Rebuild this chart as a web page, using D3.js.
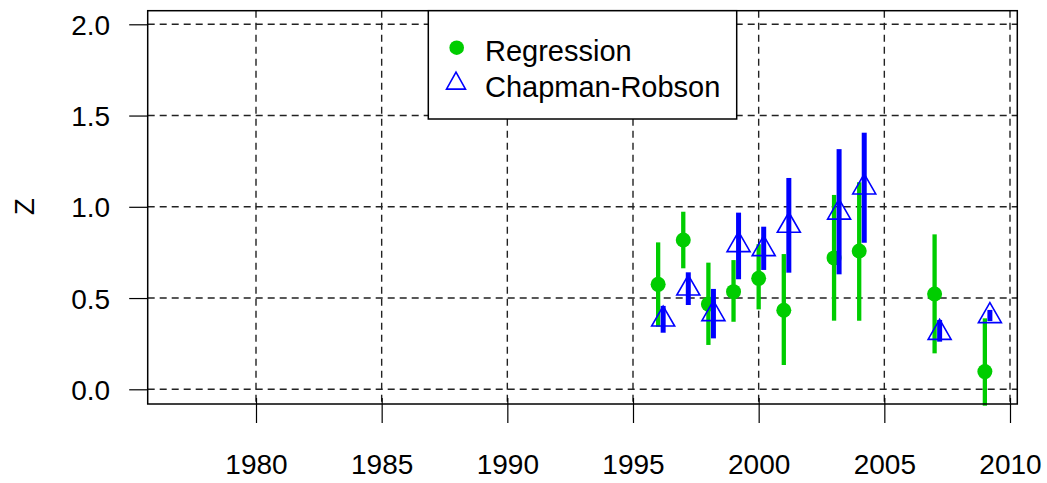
<!DOCTYPE html>
<html>
<head>
<meta charset="utf-8">
<script src="https://cdn.jsdelivr.net/npm/d3@7"></script>
<style>
  body { margin: 0; background: #fff; }
  svg text { font-family: "Liberation Sans", Arial, Helvetica, sans-serif; fill: #000; }
</style>
</head>
<body>
<svg id="chart" width="1047" height="483"></svg>
<script>
// Values
const years = [1996, 1997, 1998, 1999, 2000, 2001, 2003, 2004, 2007, 2009];

// Regression estimate with lower / upper bounds
const regZ     = [0.575, 0.818, 0.467, 0.535, 0.608, 0.433, 0.720, 0.758, 0.522, 0.097];
const regLower = [0.343, 0.663, 0.243, 0.370, 0.438, 0.133, 0.376, 0.376, 0.197, -0.09];
const regUpper = [0.805, 0.973, 0.694, 0.708, 0.795, 0.741, 1.065, 1.134, 0.849, 0.389];

// Chapman-Robson estimate with lower / upper bounds
const crZ     = [0.383, 0.553, 0.413, 0.791, 0.769, 0.897, 0.969, 1.107, 0.310, 0.402];
const crLower = [0.310, 0.462, 0.279, 0.603, 0.654, 0.639, 0.630, 0.803, 0.261, 0.374];
const crUpper = [0.457, 0.641, 0.550, 0.968, 0.891, 1.158, 1.316, 1.406, 0.380, 0.435];

const xTicks = [1980, 1985, 1990, 1995, 2000, 2005, 2010];
const yTicks = [0, 0.5, 1, 1.5, 2];
const crOffset = 0.2; // CR bars are nudged right of the year

const legendLabels = ["Regression", "Chapman-Robson"];

const GREEN = "#00CD00";
const BLUE = "#0000FF";

// Plot box in pixels
const box = { left: 147.7, right: 1017.3, top: 10.7, bottom: 404 };

const svg = d3.select("#chart");

const x = d3.scaleLinear()
  .domain([1980, 2010])
  .range([256, 1010]);
const y = d3.scaleLinear()
  .domain([0, 2])
  .range([389.3, 24.3]);

// Grid
const grid = svg.append("g").attr("class", "grid");
grid.selectAll(".hgrid")
  .data(yTicks)
  .join("line")
  .attr("x1", box.left).attr("x2", box.right)
  .attr("y1", d => y(d)).attr("y2", d => y(d))
  .attr("stroke", "#222").attr("stroke-width", 1.4)
  .attr("stroke-dasharray", "7,5");
grid.selectAll(".vgrid")
  .data(xTicks)
  .join("line")
  .attr("x1", d => x(d)).attr("x2", d => x(d))
  .attr("y1", box.top).attr("y2", box.bottom)
  .attr("stroke", "#222").attr("stroke-width", 1.4)
  .attr("stroke-dasharray", "7,5");

// Y axis
const yAxis = svg.append("g")
  .attr("transform", `translate(${box.left},0)`)
  .call(d3.axisLeft(y).tickValues(yTicks).tickFormat(d3.format(".1f")).tickSize(18.5).tickPadding(19));
yAxis.select(".domain").remove();
yAxis.selectAll("line").attr("stroke", "#000").attr("stroke-width", 1.2);
yAxis.selectAll("text").style("font-size", "28px").attr("dy", "0.36em");

// X axis (ticks poke slightly into the box, like the reference)
const xAxis = svg.append("g")
  .attr("transform", `translate(0,${398})`)
  .call(d3.axisBottom(x).tickValues(xTicks).tickFormat(d3.format("d")).tickSize(25).tickPadding(31));
xAxis.select(".domain").remove();
xAxis.selectAll("line").attr("stroke", "#000").attr("stroke-width", 1.2);
xAxis.selectAll("text").style("font-size", "28px");

// Axis title
svg.append("text")
  .attr("transform", `translate(34,206.7) rotate(-90)`)
  .attr("text-anchor", "middle")
  .style("font-size", "28px")
  .text("Z");

// Data
const regData = years.map((yr, i) => ({ yr, z: regZ[i], lo: regLower[i], hi: regUpper[i] }));
const crData = years.map((yr, i) => ({ yr: yr + crOffset, z: crZ[i], lo: crLower[i], hi: crUpper[i] }));

const marks = svg.append("g");

marks.selectAll(".reg-bar")
  .data(regData)
  .join("line")
  .attr("class", "reg-bar")
  .attr("x1", d => x(d.yr)).attr("x2", d => x(d.yr))
  .attr("y1", d => y(d.lo)).attr("y2", d => y(d.hi))
  .attr("stroke", GREEN).attr("stroke-width", 4.3);

marks.selectAll(".reg-dot")
  .data(regData)
  .join("circle")
  .attr("class", "reg-dot")
  .attr("cx", d => x(d.yr)).attr("cy", d => y(d.z))
  .attr("r", 7.5)
  .attr("fill", GREEN);

// R style pch=2 triangle, centred on its centroid
const triPath = (cx, cy, w, h) =>
  `M${cx},${cy - h * 2 / 3}L${cx + w / 2},${cy + h / 3}L${cx - w / 2},${cy + h / 3}Z`;

marks.selectAll(".cr-tri")
  .data(crData)
  .join("path")
  .attr("class", "cr-tri")
  .attr("d", d => triPath(x(d.yr), y(d.z), 23, 20))
  .attr("fill", "none")
  .attr("stroke", BLUE).attr("stroke-width", 1.6);

marks.selectAll(".cr-bar")
  .data(crData)
  .join("line")
  .attr("class", "cr-bar")
  .attr("x1", d => x(d.yr)).attr("x2", d => x(d.yr))
  .attr("y1", d => y(d.lo)).attr("y2", d => y(d.hi))
  .attr("stroke", BLUE).attr("stroke-width", 5);

// Plot box
svg.append("rect")
  .attr("x", box.left).attr("y", box.top)
  .attr("width", box.right - box.left).attr("height", box.bottom - box.top)
  .attr("fill", "none").attr("stroke", "#000").attr("stroke-width", 1.5);

// Legend
const legend = svg.append("g");
legend.append("rect")
  .attr("x", 428.3).attr("y", 10.7)
  .attr("width", 308.4).attr("height", 108.3)
  .attr("fill", "#fff").attr("stroke", "#000").attr("stroke-width", 1.5);
legend.append("circle")
  .attr("cx", 456.7).attr("cy", 47.7).attr("r", 7.3)
  .attr("fill", GREEN);
legend.append("path")
  .attr("d", triPath(456, 83.5, 19, 17))
  .attr("fill", "none").attr("stroke", BLUE).attr("stroke-width", 1.6);
legend.selectAll(".leg-text")
  .data(legendLabels)
  .join("text")
  .attr("class", "leg-text")
  .attr("x", 485)
  .attr("y", (d, i) => 61 + i * 35.5)
  .style("font-size", "29px")
  .text(d => d);
</script>
</body>
</html>
